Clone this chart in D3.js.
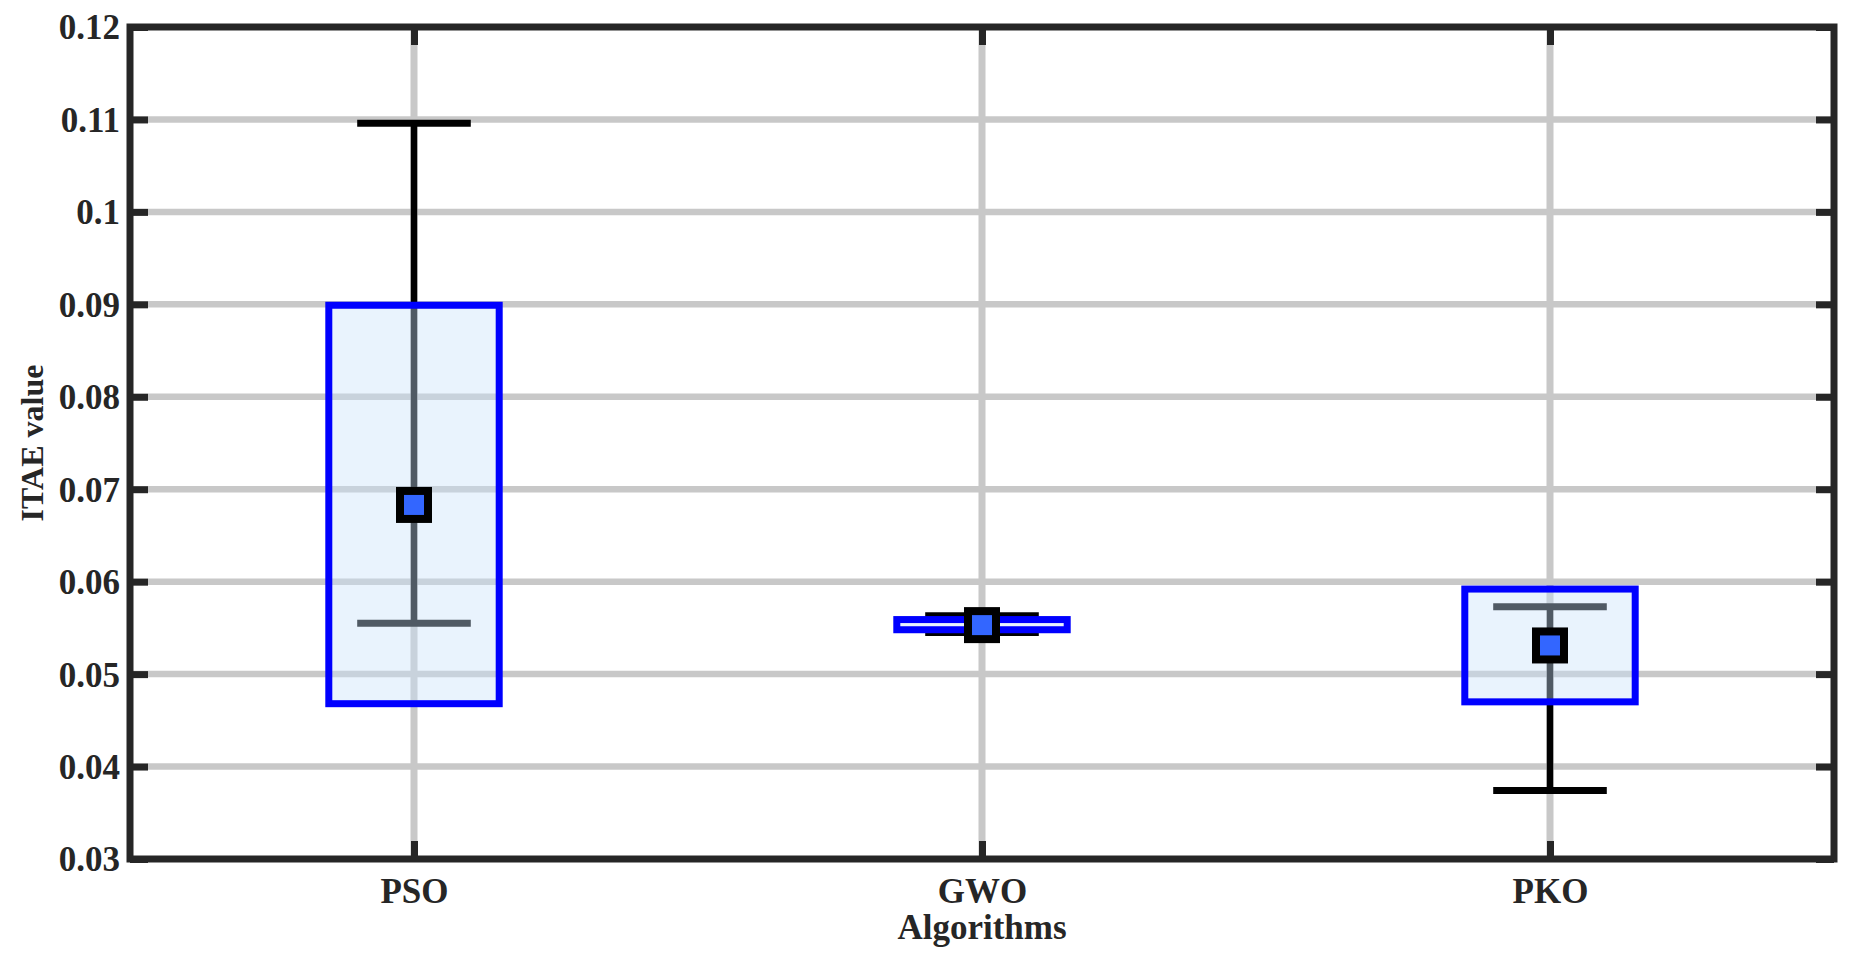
<!DOCTYPE html>
<html>
<head>
<meta charset="utf-8">
<script src="https://cdn.jsdelivr.net/npm/d3@7/dist/d3.min.js"></script>
<style>
  html, body { margin: 0; padding: 0; background: #fff; }
  svg { display: block; }
  text { font-family: "Liberation Serif", "Times New Roman", serif; font-weight: bold; fill: #262626; }
</style>
</head>
<body>
<div id="chart"></div>
<script>
// values
var categories = ['PSO', 'GWO', 'PKO'];
var boxLow   = [0.0468, 0.0548, 0.0470];
var boxHigh  = [0.0899, 0.0559, 0.0592];
var whiskLow = [0.0555, 0.0545, 0.0374];
var whiskHigh = [0.1096, 0.0563, 0.0573];
var means    = [0.0683, 0.0553, 0.0531];
var yTicks = [0.03, 0.04, 0.05, 0.06, 0.07, 0.08, 0.09, 0.1, 0.11, 0.12];

var width = 1853, height = 959;
var margin = {top: 27, right: 19, bottom: 100, left: 130};
var plotW = width - margin.left - margin.right;
var plotH = height - margin.top - margin.bottom;

var axisColor = '#262626';
var gridColor = '#c8c8c8';

var svg = d3.select('#chart').append('svg')
  .attr('width', width)
  .attr('height', height);

var g = svg.append('g')
  .attr('transform', 'translate(' + margin.left + ',' + margin.top + ')');

// categories sit at 1..n, limits half a slot either side
var x = d3.scaleLinear().domain([0.5, categories.length + 0.5]).range([0, plotW]);
var y = d3.scaleLinear().domain([0.03, 0.12]).range([plotH, 0]);

var boxHalf = 0.15, capHalf = 0.1;

// grid
g.append('g').selectAll('line.hgrid')
  .data(yTicks.slice(1, -1))
  .enter().append('line')
  .attr('x1', 0).attr('x2', plotW)
  .attr('y1', function(d) { return y(d); })
  .attr('y2', function(d) { return y(d); })
  .attr('stroke', gridColor).attr('stroke-width', 6.5);

g.append('g').selectAll('line.vgrid')
  .data(categories)
  .enter().append('line')
  .attr('x1', function(d, i) { return x(i + 1); })
  .attr('x2', function(d, i) { return x(i + 1); })
  .attr('y1', 0).attr('y2', plotH)
  .attr('stroke', gridColor).attr('stroke-width', 7);

var items = g.append('g').selectAll('g.item')
  .data(categories)
  .enter().append('g');

// whisker line + caps
items.append('line')
  .attr('x1', function(d, i) { return x(i + 1); })
  .attr('x2', function(d, i) { return x(i + 1); })
  .attr('y1', function(d, i) { return y(whiskLow[i]); })
  .attr('y2', function(d, i) { return y(whiskHigh[i]); })
  .attr('stroke', '#000').attr('stroke-width', 6.5);

[whiskLow, whiskHigh].forEach(function(arr) {
  items.append('line')
    .attr('x1', function(d, i) { return x(i + 1 - capHalf); })
    .attr('x2', function(d, i) { return x(i + 1 + capHalf); })
    .attr('y1', function(d, i) { return y(arr[i]); })
    .attr('y2', function(d, i) { return y(arr[i]); })
    .attr('stroke', '#000').attr('stroke-width', 7);
});

// boxes, translucent face
items.append('rect')
  .attr('x', function(d, i) { return x(i + 1 - boxHalf); })
  .attr('width', function(d, i) { return x(i + 1 + boxHalf) - x(i + 1 - boxHalf); })
  .attr('y', function(d, i) { return y(boxHigh[i]); })
  .attr('height', function(d, i) { return y(boxLow[i]) - y(boxHigh[i]); })
  .attr('fill', 'rgba(200,225,250,0.4)')
  .attr('stroke', '#0000ff').attr('stroke-width', 7);

// mean markers
var mk = 28;
items.append('rect')
  .attr('x', function(d, i) { return x(i + 1) - mk / 2; })
  .attr('y', function(d, i) { return y(means[i]) - mk / 2; })
  .attr('width', mk).attr('height', mk)
  .attr('fill', '#3366ff')
  .attr('stroke', '#000').attr('stroke-width', 8);

// axes on all four sides, ticks pointing in
var tickLen = 18;
var fontSize = 35;

var yLeft = g.append('g')
  .call(d3.axisLeft(y).tickValues(yTicks).tickSize(-tickLen).tickPadding(10)
    .tickFormat(function(d) { return d3.format('')(+d.toFixed(2)); }));
var yRight = g.append('g').attr('transform', 'translate(' + plotW + ',0)')
  .call(d3.axisRight(y).tickValues(yTicks).tickSize(-tickLen).tickFormat(''));
var xBottom = g.append('g').attr('transform', 'translate(0,' + plotH + ')')
  .call(d3.axisBottom(x).tickValues([1, 2, 3]).tickSize(-tickLen).tickPadding(14)
    .tickFormat(function(d) { return categories[d - 1]; }));
var xTop = g.append('g')
  .call(d3.axisTop(x).tickValues([1, 2, 3]).tickSize(-tickLen).tickFormat(''));

[yLeft, yRight, xBottom, xTop].forEach(function(ax) {
  ax.select('.domain').remove();
  ax.selectAll('.tick line').attr('stroke', axisColor).attr('stroke-width', 7);
  ax.selectAll('.tick text')
    .attr('fill', axisColor)
    .style('font-size', fontSize + 'px')
    .style('font-family', '"Liberation Serif", "Times New Roman", serif')
    .style('font-weight', 'bold');
});
yLeft.selectAll('.tick text').attr('dy', '0.34em');
xBottom.selectAll('.tick text').attr('dy', '0.85em');

// frame
g.append('rect')
  .attr('x', 0).attr('y', 0)
  .attr('width', plotW).attr('height', plotH)
  .attr('fill', 'none')
  .attr('stroke', axisColor).attr('stroke-width', 7);

// axis titles
g.append('text')
  .attr('x', plotW / 2)
  .attr('y', plotH + 80)
  .attr('text-anchor', 'middle')
  .style('font-size', '35px')
  .text('Algorithms');

g.append('text')
  .attr('transform', 'translate(' + (43 - margin.left) + ',' + (plotH / 2) + ') rotate(-90)')
  .attr('text-anchor', 'middle')
  .style('font-size', '32px')
  .text('ITAE value');
</script>
</body>
</html>
